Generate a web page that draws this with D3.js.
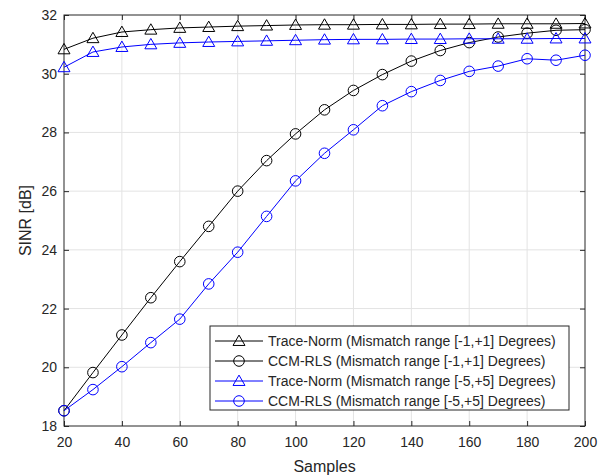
<!DOCTYPE html>
<html lang="en">
<head>
<meta charset="utf-8">
<style>
  body { margin: 0; background: #fff; }
  text { font-family: "Liberation Sans", Arial, Helvetica, sans-serif; fill: #262626; }
  .grid line { stroke: #e3e3e3; stroke-width: 1; }
  .line { fill: none; stroke-width: 1; }
</style>
</head>
<body>
<script src="https://d3js.org/d3.v7.min.js"></script>
<script>
// samples on the x axis
var samples = [20, 30, 40, 50, 60, 70, 80, 90, 100, 110, 120, 130, 140, 150, 160, 170, 180, 190, 200];

// SINR values [dB]
var traceNorm1 = [30.83, 31.21, 31.42, 31.50, 31.56, 31.59, 31.62, 31.64, 31.66, 31.67, 31.67, 31.68, 31.68, 31.69, 31.69, 31.70, 31.70, 31.70, 31.71];
var ccmRls1    = [18.52, 19.82, 21.10, 22.37, 23.60, 24.80, 26.00, 27.04, 27.95, 28.77, 29.43, 29.97, 30.43, 30.79, 31.06, 31.25, 31.38, 31.48, 31.50];
var traceNorm5 = [30.22, 30.74, 30.91, 31.00, 31.05, 31.08, 31.10, 31.12, 31.14, 31.16, 31.17, 31.17, 31.18, 31.18, 31.19, 31.19, 31.19, 31.20, 31.20];
var ccmRls5    = [18.52, 19.24, 20.02, 20.84, 21.64, 22.84, 23.92, 25.14, 26.35, 27.29, 28.09, 28.91, 29.39, 29.77, 30.08, 30.26, 30.51, 30.46, 30.63];

var xTicks = [20, 40, 60, 80, 100, 120, 140, 160, 180, 200];
var yTicks = [18, 20, 22, 24, 26, 28, 30, 32];

var seriesNames = [
  "Trace-Norm (Mismatch range [-1,+1] Degrees)",
  "CCM-RLS (Mismatch range [-1,+1] Degrees)",
  "Trace-Norm (Mismatch range [-5,+5] Degrees)",
  "CCM-RLS (Mismatch range [-5,+5] Degrees)"
];

var series = [
  {name: seriesNames[0], values: traceNorm1, color: "#000000", marker: "triangle"},
  {name: seriesNames[1], values: ccmRls1,    color: "#000000", marker: "circle"},
  {name: seriesNames[2], values: traceNorm5, color: "#0000ff", marker: "triangle"},
  {name: seriesNames[3], values: ccmRls5,    color: "#0000ff", marker: "circle"}
];

var W = 605, H = 476;
var margin = {top: 15, left: 64, right: 20, bottom: 50};
var w = W - margin.left - margin.right,
    h = H - margin.top - margin.bottom;

var svg = d3.select("body").append("svg")
    .attr("width", W)
    .attr("height", H);

var g = svg.append("g")
    .attr("transform", "translate(" + margin.left + "," + margin.top + ")");

var x = d3.scaleLinear().domain([20, 200]).range([0, w]);
var y = d3.scaleLinear().domain([18, 32]).range([h, 0]);

// grid
var grid = g.append("g").attr("class", "grid");
grid.selectAll("line.gx").data(xTicks.slice(1, -1)).enter().append("line")
    .attr("x1", function(d){ return x(d); }).attr("x2", function(d){ return x(d); })
    .attr("y1", 0).attr("y2", h);
grid.selectAll("line.gy").data(yTicks.slice(1, -1)).enter().append("line")
    .attr("y1", function(d){ return y(d); }).attr("y2", function(d){ return y(d); })
    .attr("x1", 0).attr("x2", w);

// axes (MATLAB style, ticks inside, box)
function styleAxis(sel) {
  sel.select(".domain").remove();
  sel.selectAll(".tick line").attr("stroke", "#262626");
  sel.selectAll(".tick text").style("font-size", "14px").attr("fill", "#262626");
}

g.append("g").attr("transform", "translate(0," + h + ")")
  .call(d3.axisBottom(x).tickValues(xTicks).tickSize(-5).tickPadding(11))
  .call(styleAxis);
g.append("g")
  .call(d3.axisTop(x).tickValues(xTicks).tickSize(-5).tickFormat(""))
  .call(styleAxis);
g.append("g")
  .call(d3.axisLeft(y).tickValues(yTicks).tickSize(-5).tickPadding(7))
  .call(styleAxis);
g.append("g").attr("transform", "translate(" + w + ",0)")
  .call(d3.axisRight(y).tickValues(yTicks).tickSize(-5).tickFormat(""))
  .call(styleAxis);

g.append("rect")
  .attr("width", w).attr("height", h)
  .attr("fill", "none").attr("stroke", "#262626").attr("stroke-width", 1);

// axis labels
g.append("text")
  .attr("x", w / 2).attr("y", h + 46)
  .attr("text-anchor", "middle")
  .style("font-size", "16px")
  .text("Samples");
g.append("text")
  .attr("transform", "translate(" + (-33) + "," + (h / 2) + ") rotate(-90)")
  .attr("text-anchor", "middle")
  .style("font-size", "16px")
  .text("SINR [dB]");

// lines + markers
var line = d3.line()
  .x(function(d, i){ return x(samples[i]); })
  .y(function(d){ return y(d); });

var triSym = d3.symbol().type(d3.symbolTriangle).size(62);

function drawMarker(sel, s) {
  if (s.marker === "circle") {
    sel.append("circle").attr("r", 5.3)
      .attr("fill", "none").attr("stroke", s.color).attr("stroke-width", 1);
  } else {
    sel.append("path").attr("d", triSym).attr("transform", "translate(0,1)")
      .attr("fill", "none").attr("stroke", s.color).attr("stroke-width", 1);
  }
}

series.forEach(function(s) {
  g.append("path").datum(s.values)
    .attr("class", "line")
    .attr("stroke", s.color)
    .attr("d", line);
  g.selectAll(null).data(s.values).enter().append("g")
    .attr("transform", function(d, i){ return "translate(" + x(samples[i]) + "," + y(d) + ")"; })
    .each(function(){ drawMarker(d3.select(this), s); });
});

// legend
var lg = svg.append("g").attr("transform", "translate(210,326)");
lg.append("rect").attr("width", 359).attr("height", 84)
  .attr("fill", "#fff").attr("stroke", "#262626").attr("stroke-width", 1);
series.forEach(function(s, i) {
  var row = lg.append("g").attr("transform", "translate(0," + (15 + i * 20) + ")");
  row.append("line").attr("x1", 5).attr("x2", 53)
    .attr("stroke", s.color).attr("stroke-width", 1);
  var m = row.append("g").attr("transform", "translate(29,0)");
  drawMarker(m, s);
  row.append("text").attr("x", 58).attr("dy", "0.35em")
    .style("font-size", "14px")
    .attr("fill", "#000")
    .text(s.name);
});
</script>
</body>
</html>
